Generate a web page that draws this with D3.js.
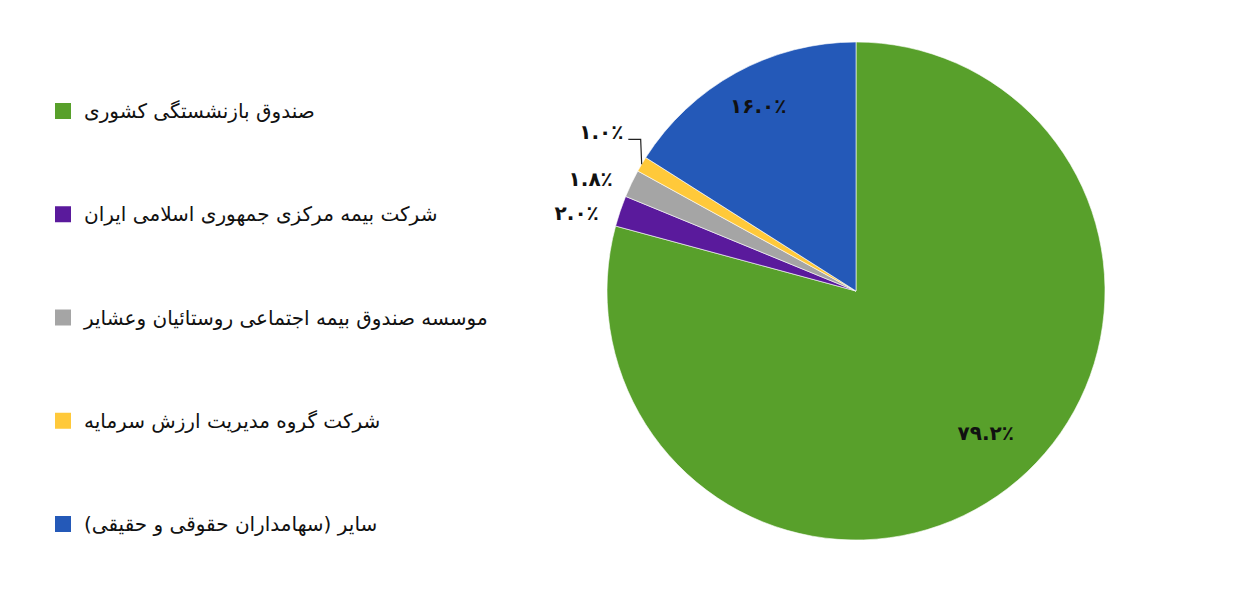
<!DOCTYPE html>
<html>
<head>
<meta charset="utf-8">
<script src="https://cdn.jsdelivr.net/npm/d3@7"></script>
<style>
  html, body { margin: 0; padding: 0; background: #ffffff; }
  svg { display: block; }
</style>
</head>
<body>
<svg id="chart" width="1242" height="615"></svg>
<script>
// ---- data ----
const categories = [
  "صندوق بازنشستگی کشوری",
  "شرکت بیمه مرکزی جمهوری اسلامی ایران",
  "موسسه صندوق بیمه اجتماعی روستائیان وعشایر",
  "شرکت گروه مدیریت ارزش سرمایه",
  "سایر (سهامداران حقوقی و حقیقی)"
];
const values = [79.2, 2.0, 1.8, 1.0, 16.0];
const valueLabels = ["۷۹.۲٪", "۲.۰٪", "۱.۸٪", "۱.۰٪", "۱۶.۰٪"];

// ---- styles / layout ----
const colors = ["#58a02b", "#5a1a9c", "#a5a5a5", "#ffc93a", "#2459b8"];
// label placement: [radius, angle in degrees clockwise from top]
const labelPlacement = [[192, 137.5], [290, 285.6], [288, 292.9], [300, 301.9], [209, 332.1]];

const svg = d3.select("#chart");
const cx = 856, cy = 291, R = 249;

const pie = d3.pie().sort(null).value(d => d).startAngle(0).endAngle(2 * Math.PI);
const arcs = pie(values);
const arc = d3.arc().innerRadius(0).outerRadius(R);

const g = svg.append("g").attr("transform", `translate(${cx},${cy})`);

g.selectAll("path.slice")
  .data(arcs)
  .enter().append("path")
  .attr("class", "slice")
  .attr("d", arc)
  .attr("fill", (d, i) => colors[i])
  .attr("stroke", "#ffffff")
  .attr("stroke-width", 0.6);

const toRad = a => a * Math.PI / 180;
const polar = (r, deg) => [r * Math.sin(toRad(deg)), -r * Math.cos(toRad(deg))];

// value labels
g.selectAll("text.val")
  .data(arcs)
  .enter().append("text")
  .attr("class", "val")
  .attr("x", (d, i) => polar(labelPlacement[i][0], labelPlacement[i][1])[0])
  .attr("y", (d, i) => polar(labelPlacement[i][0], labelPlacement[i][1])[1])
  .attr("text-anchor", "middle")
  .attr("dominant-baseline", "central")
  .style("font-family", "'DejaVu Sans', sans-serif")
  .style("font-weight", "bold")
  .style("font-size", "20px")
  .attr("fill", "#111111")
  .text((d, i) => valueLabels[i]);

// leader line for the smallest slice (index 3)
{
  const i = 3;
  const d = arcs[i];
  const edge = d3.arc().innerRadius(R).outerRadius(R).centroid(d);
  const lp = polar(labelPlacement[i][0], labelPlacement[i][1]);
  const lineY = lp[1] + 7;
  const startX = lp[0] + 27;
  g.append("path")
    .attr("d", `M${startX},${lineY} L${edge[0] - 1},${lineY} L${edge[0]},${edge[1]}`)
    .attr("fill", "none")
    .attr("stroke", "#222222")
    .attr("stroke-width", 1.2);
}

// legend
const legendY = d3.scalePoint().domain(d3.range(categories.length)).range([111, 524]);
const legend = svg.append("g");
const items = legend.selectAll("g.item")
  .data(categories)
  .enter().append("g")
  .attr("class", "item")
  .attr("transform", (d, i) => `translate(0,${legendY(i)})`);

items.append("rect")
  .attr("x", 55).attr("y", -8)
  .attr("width", 16).attr("height", 16)
  .attr("fill", (d, i) => colors[i]);

items.append("text")
  .attr("x", 84)
  .attr("y", 0)
  .attr("direction", "rtl")
  .attr("text-anchor", "end")
  .attr("dominant-baseline", "central")
  .style("font-family", "'DejaVu Sans', sans-serif")
  .style("font-size", "20px")
  .attr("fill", "#111111")
  .text(d => d);
</script>
</body>
</html>
